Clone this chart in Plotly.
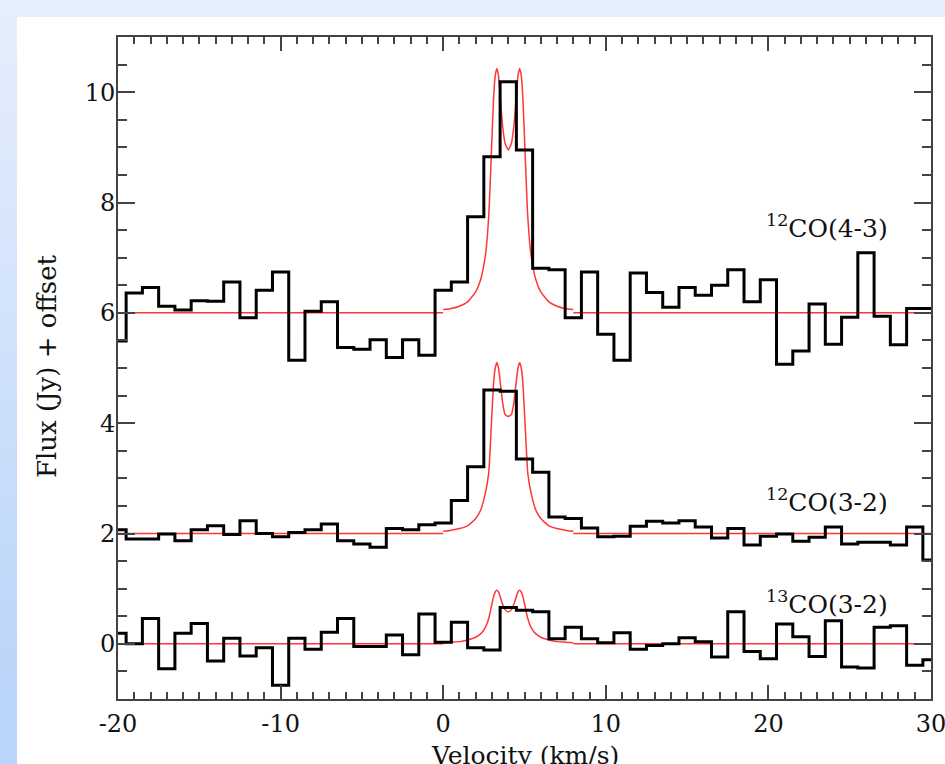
import base64
import plotly.graph_objects as go

# ---------------- data ----------------
velocity = list(range(-20, 31))  # bin centres, km/s (1 km/s channels)

co43 = [5.49, 6.36, 6.46, 6.12, 6.05, 6.22, 6.21, 6.56, 5.91, 6.41,
        6.74, 5.14, 6.03, 6.20, 5.37, 5.34, 5.51, 5.19, 5.51, 5.23,
        6.41, 6.56, 7.74, 8.83, 10.19, 8.95, 6.81, 6.78, 5.91, 6.74,
        5.61, 5.14, 6.72, 6.37, 6.10, 6.46, 6.32, 6.50, 6.78, 6.20,
        6.60, 5.07, 5.31, 6.16, 5.43, 5.92, 7.09, 5.94, 5.42, 6.08, 6.08]

co32 = [2.07, 1.90, 1.90, 1.99, 1.87, 2.07, 2.14, 1.98, 2.23, 2.00,
        1.94, 2.02, 2.07, 2.17, 1.87, 1.81, 1.75, 2.09, 2.07, 2.16,
        2.19, 2.60, 3.21, 4.60, 4.58, 3.35, 3.11, 2.30, 2.27, 2.10,
        1.94, 1.95, 2.13, 2.22, 2.19, 2.23, 2.12, 1.92, 2.09, 1.79,
        1.95, 1.99, 1.86, 1.93, 2.12, 1.81, 1.84, 1.84, 1.79, 2.12, 1.52]

co13 = [0.19, 0.00, 0.46, -0.45, 0.19, 0.37, -0.31, 0.10, -0.22, -0.07,
        -0.75, 0.10, -0.10, 0.21, 0.46, -0.05, -0.05, 0.16, -0.20, 0.54,
        0.03, 0.39, -0.07, -0.11, 0.66, 0.61, 0.58, 0.09, 0.30, 0.09,
        0.02, 0.20, -0.10, -0.03, 0.00, 0.11, 0.04, -0.24, 0.58, -0.14,
        -0.27, 0.36, 0.13, -0.23, 0.42, -0.42, -0.44, 0.30, 0.33, -0.39, -0.29]

# model (red) profiles
model_v = [0, 0.5, 1.0, 1.5, 2.0, 2.3, 2.6, 2.8, 2.95, 3.1, 3.2, 3.3, 3.4, 3.5,
           3.65, 3.8, 4.0, 4.2, 4.35, 4.5, 4.6, 4.7, 4.8, 4.9, 5.05, 5.2, 5.4,
           5.7, 6.0, 6.5, 7.0, 7.5, 8.0]
model_43 = [6.06, 6.08, 6.12, 6.20, 6.38, 6.60, 7.05, 7.75, 8.80, 9.90, 10.30,
            10.43, 10.30, 9.95, 9.40, 9.08, 8.95, 9.08, 9.40, 9.95, 10.30, 10.43,
            10.30, 9.90, 8.80, 7.75, 7.05, 6.60, 6.38, 6.20, 6.12, 6.08, 6.06]
model_32 = [2.04, 2.06, 2.09, 2.14, 2.27, 2.42, 2.74, 3.10, 3.90, 4.73, 5.00,
            5.10, 5.00, 4.77, 4.38, 4.16, 4.12, 4.16, 4.38, 4.77, 5.00, 5.10,
            5.00, 4.73, 3.90, 3.10, 2.74, 2.42, 2.27, 2.14, 2.09, 2.06, 2.04]
model_13 = [0.02, 0.03, 0.04, 0.07, 0.12, 0.18, 0.30, 0.46, 0.66, 0.86, 0.94,
            0.97, 0.94, 0.86, 0.72, 0.62, 0.58, 0.62, 0.72, 0.86, 0.94, 0.97,
            0.94, 0.86, 0.66, 0.46, 0.30, 0.18, 0.12, 0.07, 0.04, 0.03, 0.02]

offsets = [6, 2, 0]
baseline_left = [-20, 0]
baseline_right = [8, 30]
labels = ["<sup>12</sup>CO(4-3)", "<sup>12</sup>CO(3-2)", "<sup>13</sup>CO(3-2)"]
label_y = [7.57, 2.6, 0.75]
label_x = 27.5

x_ticks = [-20, -10, 0, 10, 20, 30]
x_ticktext = ["-20", "-10", "0", "10", "20", "30"]

# ---------------- figure ----------------
W, H = 945, 764
ML, MR, MT, MB = 118, 14, 37, 65
PW, PH = W - ML - MR, H - MT - MB

FONT = "DejaVu Serif"
AX = "#444444"
RED = "rgb(255,55,55)"

fig = go.Figure()

for off, mod in zip(offsets, [model_43, model_32, model_13]):
    fig.add_trace(go.Scatter(
        x=baseline_left + [None] + model_v + [None] + baseline_right,
        y=[off, off] + [None] + mod + [None] + [off, off],
        mode="lines", line=dict(color=RED, width=1.5, shape="spline", smoothing=0.5),
        connectgaps=False, hoverinfo="skip", showlegend=False))

for spec in [co43, co32, co13]:
    fig.add_trace(go.Scatter(
        x=velocity, y=spec, mode="lines",
        line=dict(color="black", width=3, shape="hvh"),
        showlegend=False))

for txt, yy in zip(labels, label_y):
    fig.add_annotation(x=label_x, y=yy, xref="x", yref="y", text=txt,
                       showarrow=False, xanchor="right", yanchor="middle",
                       font=dict(family=FONT, size=25, color="#111"))

# axis titles as annotations
fig.add_annotation(x=(47 - ML) / PW, y=(H - MB - 366) / PH, xref="paper", yref="paper",
                   text="Flux (Jy) + offset", textangle=-90, showarrow=False,
                   xanchor="center", yanchor="middle",
                   font=dict(family=FONT, size=26, color="#111"))
fig.add_annotation(x=0.5, y=0, xref="paper", yref="paper",
                   text="Velocity (km/s)", showarrow=False,
                   xanchor="center", yanchor="top", yshift=-40,
                   font=dict(family=FONT, size=25, color="#111"))

# background (light-blue slide frame)
svg = (f"<svg xmlns='http://www.w3.org/2000/svg' width='{W}' height='{H}'>"
       "<defs><linearGradient id='g' x1='0' y1='0' x2='0' y2='1'>"
       "<stop offset='0' stop-color='#E6EFFC'/><stop offset='0.85' stop-color='#BDD6FA'/>"
       "<stop offset='1' stop-color='#BBD4FA'/></linearGradient></defs>"
       f"<rect width='{W}' height='{H}' fill='#E6EFFC'/>"
       f"<rect x='0' y='0' width='17' height='{H}' fill='url(#g)'/>"
       f"<rect x='17' y='17' width='{W-17}' height='{H-17}' fill='white'/></svg>")
src = "data:image/svg+xml;base64," + base64.b64encode(svg.encode()).decode()
fig.add_layout_image(source=src, xref="paper", yref="paper",
                     x=-ML / PW, y=1 + MT / PH, sizex=W / PW, sizey=H / PH,
                     xanchor="left", yanchor="top", sizing="stretch", layer="below")

fig.update_xaxes(range=[-20, 30], tickmode="array", tickvals=x_ticks, ticktext=x_ticktext,
                 ticks="inside", ticklen=14, tickwidth=2, tickcolor=AX,
                 showline=True, linewidth=2, linecolor=AX, mirror="ticks",
                 showgrid=False, zeroline=False, ticklabelstandoff=2,
                 ticklabeloverflow="allow", automargin=False,
                 tickfont=dict(family=FONT, size=24, color="#111"),
                 minor=dict(tickmode="linear", tick0=0, dtick=1, ticks="inside",
                            ticklen=7, tickwidth=2, tickcolor=AX, showgrid=False))
fig.update_yaxes(range=[-1, 11], tickmode="linear", tick0=0, dtick=2,
                 ticks="inside", ticklen=17, tickwidth=2, tickcolor=AX,
                 showline=True, linewidth=2, linecolor=AX, mirror="ticks",
                 showgrid=False, zeroline=False, ticklabelstandoff=-4,
                 ticklabeloverflow="allow", automargin=False,
                 tickfont=dict(family=FONT, size=24, color="#111"),
                 minor=dict(tickmode="linear", tick0=0, dtick=0.5, ticks="inside",
                            ticklen=9, tickwidth=2, tickcolor=AX, showgrid=False))

fig.update_layout(width=W, height=H, margin=dict(l=ML, r=MR, t=MT, b=MB, pad=0, autoexpand=False),
                  paper_bgcolor="#E6EFFC", plot_bgcolor="white", showlegend=False)

fig.write_html("out.html", config={"displayModeBar": False},
               post_script="document.body.style.margin='0';"
                           "document.body.style.overflow='hidden';"
                           "document.body.style.background='#E6EFFC';")
